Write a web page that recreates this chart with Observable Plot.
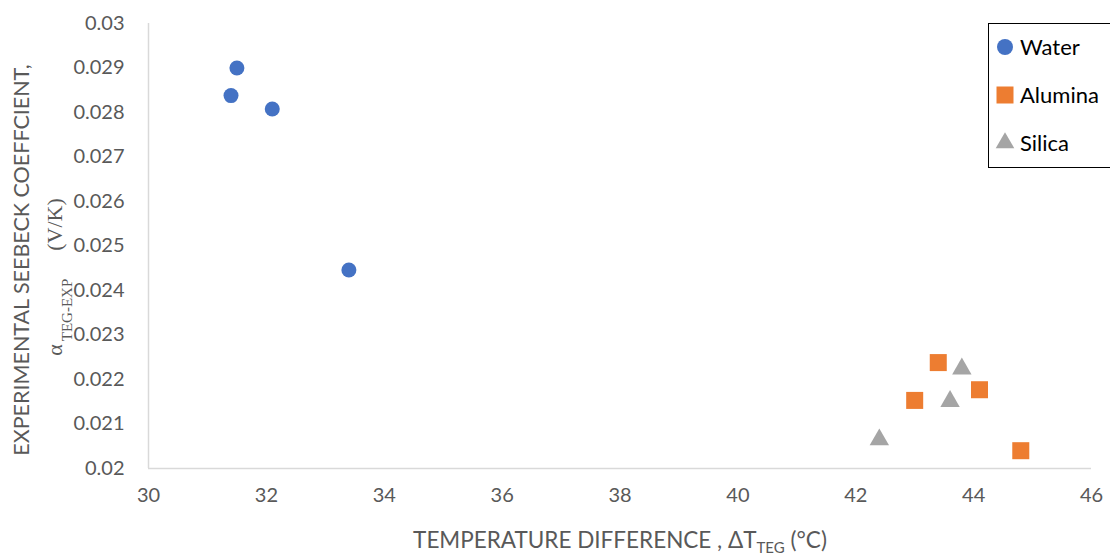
<!DOCTYPE html>
<html><head><meta charset="utf-8">
<script src="https://cdn.jsdelivr.net/npm/d3@7"></script>
<script src="https://cdn.jsdelivr.net/npm/@observablehq/plot@0.6"></script>
<style>body{margin:0;background:#fff;}</style>
</head><body><div id="chart"></div>
<script>
const xTicks = [30, 32, 34, 36, 38, 40, 42, 44, 46];
const yTicks = [0.02, 0.021, 0.022, 0.023, 0.024, 0.025, 0.026, 0.027, 0.028, 0.029, 0.03];
const waterX = [31.5, 31.4, 32.1, 33.4];
const waterY = [0.0290, 0.02838, 0.02808, 0.02446];
const aluminaX = [43.4, 43.0, 44.1, 44.8];
const aluminaY = [0.02238, 0.02153, 0.02177, 0.02040];
const silicaX = [43.8, 43.6, 42.4];
const silicaY = [0.02224, 0.02151, 0.02065];
const seriesNames = ["Water", "Alumina", "Silica"];
const seriesColors = ["#4472C4", "#ED7D31", "#A5A5A5"];
const seriesSymbols = ["circle", "square", "triangle"];

const pts = (xs, ys) => xs.map((x, i) => ({x, y: ys[i]}));
const FONT = "Lato, sans-serif";

const svg = Plot.plot({
  width: 1110, height: 556,
  marginTop: 23, marginBottom: 88, marginLeft: 148, marginRight: 19,
  style: {fontFamily: FONT, fontSize: "20px", color: "#595959", background: "white", overflow: "visible"},
  x: {domain: [30, 46]},
  y: {domain: [0.02, 0.03]},
  marks: [
    Plot.ruleX([30], {stroke: "#d9d9d9", strokeWidth: 1.5}),
    Plot.ruleY([0.02], {stroke: "#d9d9d9", strokeWidth: 1.5}),
    Plot.axisX(xTicks, {tickSize: 0, tickPadding: 19, label: null, fill: "#595959", fontSize: 20}),
    Plot.axisY(yTicks, {tickSize: 0, tickPadding: 24, label: null, fill: "#595959", fontSize: 20,
      tickFormat: d => String(+d.toFixed(3))}),
    Plot.dot(pts(waterX, waterY), {x: "x", y: "y", symbol: seriesSymbols[0], r: 7.5, fill: seriesColors[0], stroke: "none"}),
    Plot.dot(pts(aluminaX, aluminaY), {x: "x", y: "y", symbol: seriesSymbols[1], r: 9.6, fill: seriesColors[1], stroke: "none"}),
    Plot.dot(pts(silicaX, silicaY), {x: "x", y: "y", symbol: seriesSymbols[2], r: 7.2, fill: seriesColors[2], stroke: "none"})
  ]
});

const s = d3.select(svg);
// Y axis title line 1
s.append("text")
  .attr("transform", "translate(29,260) rotate(-90)")
  .attr("text-anchor", "middle")
  .attr("font-family", FONT).attr("font-size", 21.5).attr("fill", "#595959")
  .text("EXPERIMENTAL SEEBECK COEFFCIENT,");
// Y axis title line 2
const t2 = s.append("text")
  .attr("transform", "translate(62,277) rotate(-90)")
  .attr("text-anchor", "middle")
  .attr("font-family", "'Liberation Serif', 'DejaVu Serif', serif").attr("font-size", 22).attr("fill", "#595959");
t2.append("tspan").text("\u03b1");
t2.append("tspan").attr("font-size", 15).attr("dx", 3).attr("dy", 10).text("TEG-EXP");
t2.append("tspan").attr("dy", -10).attr("dx", 28).text("(V/K)");
// X axis title
const xt = s.append("text")
  .attr("x", 620).attr("y", 548).attr("text-anchor", "middle")
  .attr("font-family", FONT).attr("font-size", 22.5).attr("fill", "#595959");
xt.append("tspan").text("TEMPERATURE DIFFERENCE , \u0394T");
xt.append("tspan").attr("font-size", 15).attr("dy", 5).text("TEG");
xt.append("tspan").attr("dy", -5).text(" (\u00b0C)");

// Legend
const lg = s.append("g");
lg.append("rect").attr("x", 988.5).attr("y", 23.5).attr("width", 140).attr("height", 144)
  .attr("fill", "white").attr("stroke", "black").attr("stroke-width", 1);
const legSizes = [Math.PI * 8 * 8, 17 * 17, 150];
const symMap = {circle: d3.symbolCircle, square: d3.symbolSquare, triangle: d3.symbolTriangle};
seriesNames.forEach((name, i) => {
  const cy = 47 + i * 48;
  lg.append("path").attr("transform", `translate(1005,${cy})`)
    .attr("d", d3.symbol(symMap[seriesSymbols[i]], legSizes[i])())
    .attr("fill", seriesColors[i]);
  lg.append("text").attr("x", 1020).attr("y", cy).attr("dy", "0.35em")
    .attr("text-anchor", "start")
    .attr("font-family", FONT).attr("font-size", 22).attr("fill", "black").text(name);
});

document.getElementById("chart").appendChild(svg);
</script>
</body></html>
